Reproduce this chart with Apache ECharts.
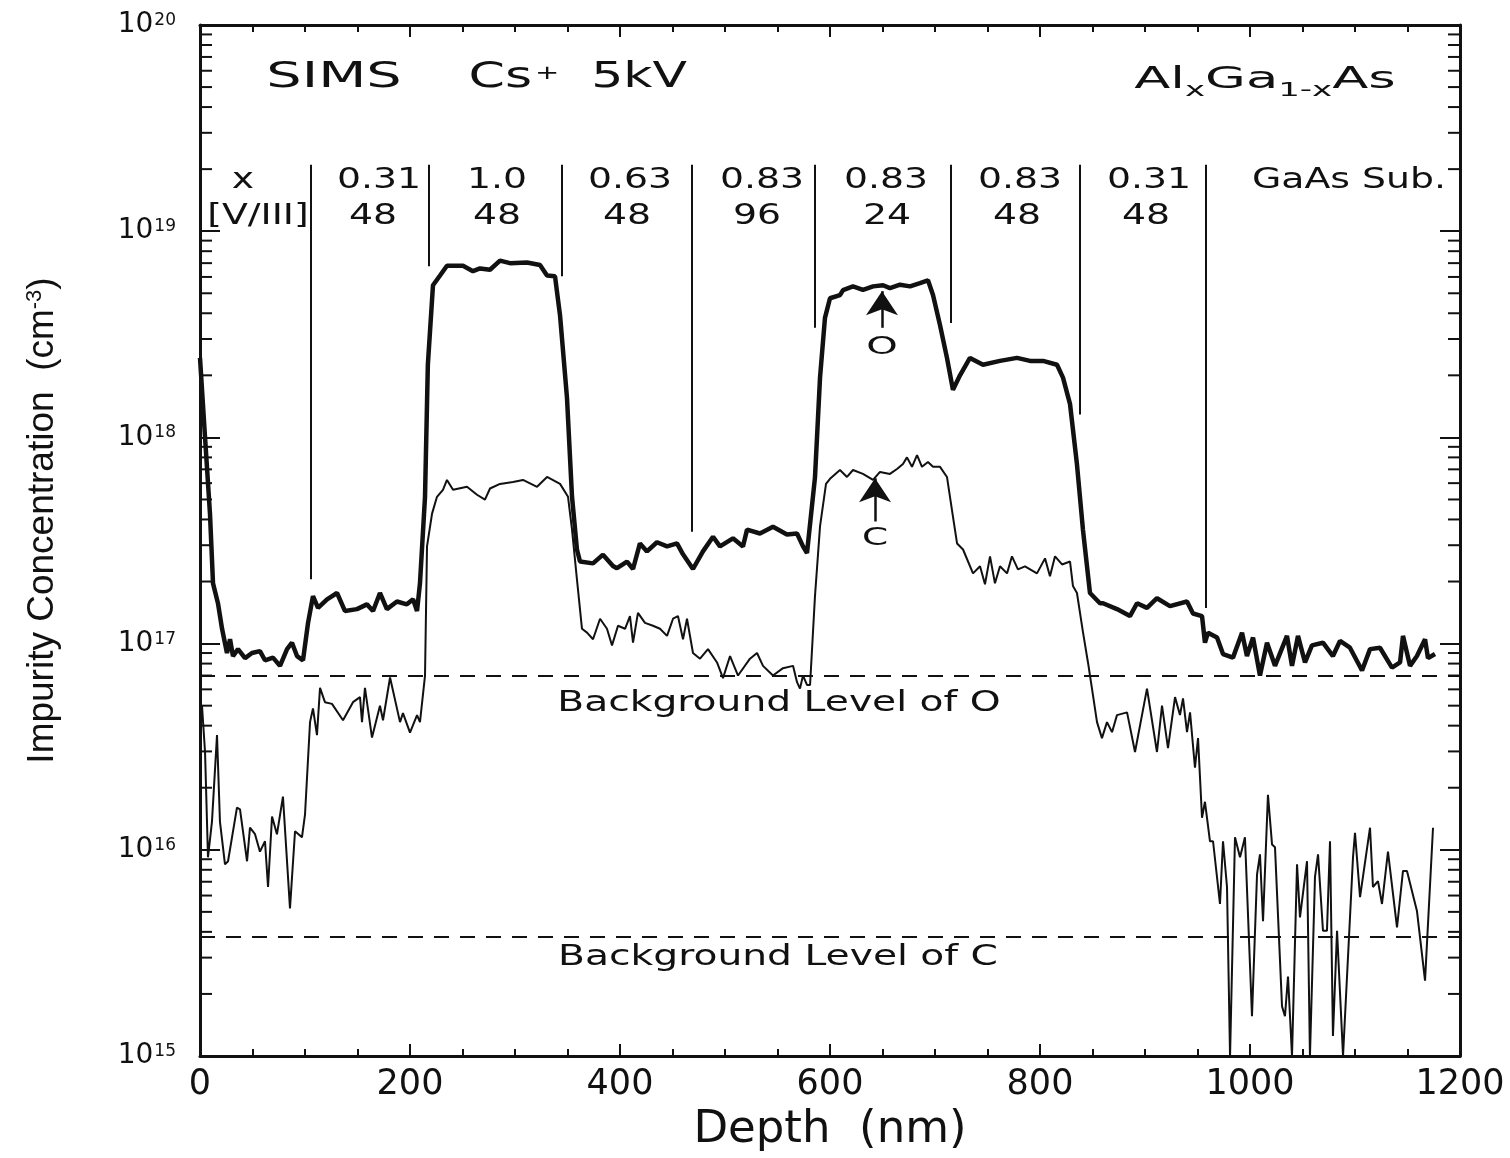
<!DOCTYPE html>
<html><head><meta charset="utf-8">
<script src="https://cdn.jsdelivr.net/npm/echarts@6/dist/echarts.min.js"></script>
<style>html,body{margin:0;padding:0;background:#fff}#c{width:1510px;height:1158px}</style>
</head><body><div id="c"></div>
<script>
// ---- data (depth nm, concentration cm^-3) ----
const oProfile = [
[0,2.43e18],[4.8,1.0e18],[9.5,4.27e17],[12.4,1.96e17],[17.1,1.57e17],[21,1.18e17],[25.7,9.0e16],[28.6,1.05e17],
[31.4,8.7e16],[36.2,9.4e16],[42.9,8.5e16],[49.5,9.0e16],[57.1,9.2e16],[61.9,8.3e16],[69.5,8.55e16],[76.2,7.8e16],
[82.9,9.4e16],[87.6,1.01e17],[92.4,8.7e16],[98.1,8.3e16],[102.9,1.26e17],[107.6,1.7e17],[112.4,1.49e17],[121,1.64e17],
[130.5,1.76e17],[138,1.44e17],[149.5,1.47e17],[159,1.55e17],[164.8,1.44e17],[171.4,1.76e17],[178,1.47e17],[187.6,1.6e17],
[197,1.55e17],[202.9,1.64e17],[206.7,1.44e17],[209.5,1.96e17],[214.3,5.15e17],[217,2.25e18],[221.9,5.47e18],[228.6,6.1e18],
[235.2,6.8e18],[250.5,6.8e18],[260,6.4e18],[266.7,6.6e18],[276.2,6.5e18],[285.7,7.2e18],[295.2,7.0e18],[311.4,7.05e18],
[323.8,6.85e18],[330.5,6.1e18],[338.1,6.05e18],[342.9,3.9e18],[349.5,1.56e18],[354.3,5.15e17],[359,2.86e17],[361.9,2.5e17],
[374.3,2.45e17],[383.8,2.7e17],[393.3,2.38e17],[397.1,2.32e17],[406.7,2.5e17],[412.4,2.3e17],[419,3.06e17],[425.7,2.8e17],
[435.2,3.1e17],[444.8,2.96e17],[454.3,3.06e17],[460,2.71e17],[469.5,2.3e17],[479,2.8e17],[488.6,3.3e17],[495.2,2.96e17],
[507.6,3.24e17],[517.1,2.96e17],[521,3.57e17],[533.3,3.42e17],[545.7,3.69e17],[559,3.38e17],[568.6,3.42e17],[574.3,2.96e17],
[578.1,2.75e17],[585.7,6.4e17],[590.5,1.95e18],[595.2,3.8e18],[600,4.73e18],[609.5,4.9e18],[612.4,5.18e18],[621.9,5.4e18],
[631.4,5.2e18],[641,5.4e18],[650.5,5.47e18],[657.1,5.3e18],[666.7,5.5e18],[676.2,5.4e18],[685.7,5.6e18],[693.3,5.78e18],
[698.1,4.9e18],[704.8,3.5e18],[711.4,2.43e18],[717.1,1.7e18],[723.8,2.0e18],[733.3,2.43e18],[745.7,2.25e18],[761.9,2.35e18],
[778.1,2.43e18],[790.5,2.35e18],[802.9,2.35e18],[816.2,2.25e18],[821.9,1.95e18],[828.6,1.45e18],[835.2,7.4e17],[840.9,3.57e17],
[847.6,1.76e17],[857.1,1.57e17],[860,1.57e17],[873.3,1.47e17],[885.7,1.36e17],[892.4,1.57e17],[901.9,1.49e17],[911.4,1.66e17],
[923.8,1.52e17],[940,1.6e17],[945.7,1.4e17],[954.3,1.36e17],[957.1,1.01e17],[960,1.13e17],[968.6,1.07e17],[974.3,8.9e16],
[983.8,8.55e16],[992.4,1.13e17],[997.1,8.7e16],[1002.9,1.07e17],[1009.5,7.0e16],[1016.2,1.01e17],[1023.8,7.8e16],[1035.2,1.09e17],
[1040,7.8e16],[1045.7,1.09e17],[1052.4,8.1e16],[1059,9.8e16],[1069.5,1.01e17],[1079,8.7e16],[1085.7,1.03e17],[1095.2,9.55e16],
[1106.7,7.4e16],[1114.3,9.4e16],[1123.8,9.55e16],[1135.2,7.65e16],[1142.9,8.1e16],[1145.7,1.09e17],[1152.4,7.8e16],[1159,8.7e16],
[1166.7,1.05e17],[1169.5,8.5e16],[1176.2,8.9e16]
];
const cProfile = [
[1.9,5.0e16],[4.8,2.98e16],[7.6,9.2e15],[11.4,1.37e16],[16.2,3.6e16],[19,1.37e16],[23.8,8.5e15],[26.7,8.8e15],
[35.2,1.6e16],[38.1,1.57e16],[44.8,8.8e15],[47.6,1.28e16],[52.4,1.19e16],[57.1,9.8e15],[61.9,1.1e16],[64.8,6.6e15],
[68.6,1.45e16],[73.3,1.19e16],[79,1.81e16],[85.7,5.2e15],[90.5,1.23e16],[97.1,1.15e16],[100,1.48e16],[104.8,4.16e16],
[107.6,4.85e16],[111.4,3.6e16],[114.3,6.1e16],[119,5.2e16],[125.7,5.1e16],[136.2,4.25e16],[145.7,5.2e16],[152.4,5.5e16],
[154.3,4.16e16],[157.1,6.1e16],[163.8,3.5e16],[171.4,5.0e16],[174.3,4.25e16],[181,6.85e16],[190.5,4.16e16],[193.3,4.6e16],
[200,3.7e16],[206.7,4.5e16],[209.5,4.16e16],[214.3,7.0e16],[216.2,2.96e17],[221,4.27e17],[225.7,5.15e17],[231.4,5.57e17],
[235.2,6.22e17],[241,5.57e17],[254.3,5.76e17],[263.8,5.27e17],[271.4,4.99e17],[276.2,5.65e17],[285.7,5.95e17],[298.1,6.08e17],
[307.6,6.22e17],[321,5.76e17],[330.5,6.43e17],[342.9,5.95e17],[350.5,5.15e17],[354.3,3.57e17],[359,2.05e17],[363.8,1.18e17],
[368.6,1.13e17],[374.3,1.05e17],[381,1.32e17],[387.6,1.18e17],[392.4,9.8e16],[398.1,1.22e17],[404.8,1.18e17],[409.5,1.36e17],
[412.4,1.01e17],[417.1,1.41e17],[423.8,1.26e17],[431.4,1.22e17],[438.1,1.18e17],[444.8,1.09e17],[450.5,1.32e17],[455.2,1.36e17],
[460,1.05e17],[463.8,1.32e17],[469.5,9.0e16],[476.2,8.45e16],[483.8,9.4e16],[492.4,8.1e16],[498.1,6.8e16],[504.8,8.7e16],
[512.4,7.0e16],[523.8,8.45e16],[530.5,9.0e16],[536.2,7.8e16],[545.7,7.0e16],[555.2,7.6e16],[564.8,7.8e16],[568.6,6.5e16],
[571.4,6.05e16],[574.3,7.0e16],[578.1,6.3e16],[581,6.3e16],[585.7,1.7e17],[590.5,3.7e17],[596.2,5.95e17],[600,6.3e17],
[609.5,6.95e17],[616.2,6.43e17],[621.9,6.95e17],[631.4,6.65e17],[641,6.22e17],[647.6,6.8e17],[657.1,6.65e17],[663.8,7.03e17],
[669.5,7.43e17],[673.3,8.0e17],[678.1,7.2e17],[682.9,8.2e17],[687.6,7.2e17],[693.3,7.6e17],[698.1,7.2e17],[704.8,7.2e17],
[711.4,6.43e17],[717.1,4.13e17],[721,3.06e17],[726.7,2.86e17],[736.2,2.19e17],[742.9,2.37e17],[747.6,1.94e17],[752.4,2.65e17],
[757.1,1.96e17],[761.9,2.37e17],[768.6,2.19e17],[773.3,2.65e17],[779,2.29e17],[785.7,2.37e17],[797.1,2.19e17],[804.8,2.59e17],
[809.5,2.12e17],[814.3,2.65e17],[821,2.42e17],[828.6,2.5e17],[831.4,1.9e17],[835.2,1.76e17],[841,1.13e17],[845.7,8.1e16],
[849.5,6.05e16],[854.3,4.16e16],[859,3.48e16],[863.8,4.16e16],[868.6,3.72e16],[873.3,4.5e16],[882.9,4.64e16],[890.5,2.98e16],
[901.9,6.05e16],[911.4,2.98e16],[916.2,5.0e16],[921.9,3.11e16],[928.6,5.5e16],[933.3,4.5e16],[936.2,5.42e16],[940,3.72e16],
[942.9,4.64e16],[947.6,2.5e16],[950.5,3.48e16],[954.3,1.43e16],[957.1,1.71e16],[961.9,1.1e16],[964.8,1.1e16],[971.4,5.46e15],
[974.3,1.1e16],[978.1,6.6e15],[981,1.0e15],[985.7,1.15e16],[990.5,9.2e15],[995.2,1.15e16],[1001.9,1.56e15],[1006.7,7.6e15],
[1009.5,9.5e15],[1012.4,4.5e15],[1017.1,1.85e16],[1021,1.06e16],[1023.8,1.03e16],[1030.5,1.74e15],[1033.3,1.56e15],[1036.2,2.43e15],
[1040,1.0e15],[1044.8,8.5e15],[1047.6,4.7e15],[1054.3,8.8e15],[1057.1,1.0e15],[1061.9,7.4e15],[1064.8,9.5e15],[1069.5,4.05e15],
[1073.3,4.05e15],[1076.2,1.1e16],[1079,1.25e15],[1082.9,4.05e15],[1088.6,1.0e15],[1098.1,9.2e15],[1100,1.21e16],[1104.8,5.9e15],
[1114.3,1.28e16],[1117.1,6.6e15],[1121.9,7.05e15],[1125.7,5.46e15],[1131.4,9.8e15],[1140,4.2e15],[1145.7,7.9e15],[1149.5,7.9e15],
[1159,5.05e15],[1166.7,2.32e15],[1174.3,1.28e16]
];
const bgO = 7.0e16;
const bgC = 3.8e15;
// layer boundaries
const sepDepth  = [105.7, 218, 344.8, 468.6, 585.7, 715.2, 838, 958];
const sepTop    = 2.1e19;
const sepBottom = [2.05e17, 6.76e18, 6.05e18, 3.49e17, 3.4e18, 3.59e18, 1.29e18, 1.49e17];
// layer header labels
const row1Text  = ['x', '0.31', '1.0', '0.63', '0.83', '0.83', '0.83', '0.31', 'GaAs Sub.'];
const row1Depth = [41, 170.5, 282.9, 409.5, 535.2, 653.3, 781, 903.8, 1094.3];
const row1Conc  = 1.75e19;
const row2Text  = ['[V/III]', '48', '48', '48', '96', '24', '48', '48'];
const row2Depth = [55.2, 164.8, 282.9, 406.7, 530.5, 654.3, 778.1, 901];
const row2Conc  = 1.17e19;
// x / y axis ticks
const xTicks = [0, 200, 400, 600, 800, 1000, 1200];
const yDecades = [15, 16, 17, 18, 19, 20];
const yMinor = [];
for (let e = 15; e < 20; e++) for (let m = 2; m <= 9; m++) yMinor.push(m * Math.pow(10, e));
// arrows
const arrowO = {depth: 649.5, from: 3.4e18, to: 5.12e18, labelConc: 2.74e18};
const arrowC = {depth: 642.9, from: 3.91e17, to: 6.33e17, labelConc: 3.22e17};
const bgLabelO = {depth: 551.4, conc: 5.1e16};
const bgLabelC = {depth: 550.5, conc: 2.98e15};

const FONT = 'DejaVu Sans';
const BLACK = '#111';
const chart = echarts.init(document.getElementById('c'));

const xAxisBase = {
  type: 'value', min: 0, max: 1200, interval: 200,
  axisLine: {show: true, onZero: false, lineStyle: {color: BLACK, width: 3}},
  axisTick: {show: true, inside: true, length: 12, lineStyle: {color: BLACK, width: 2}},
  minorTick: {show: true, splitNumber: 4, length: 7, lineStyle: {color: BLACK, width: 2}},
  splitLine: {show: false}, minorSplitLine: {show: false}
};
const yAxisBase = {
  type: 'log', logBase: 10, min: 1e15, max: 1e20,
  axisLine: {show: true, onZero: false, lineStyle: {color: BLACK, width: 3}},
  axisTick: {show: true, inside: true, length: 20, lineStyle: {color: BLACK, width: 2}},
  splitLine: {show: false}
};

const option = {
  animation: false,
  backgroundColor: '#fff',
  grid: {left: 200, right: 50, top: 25, bottom: 95},
  xAxis: [
    Object.assign({}, xAxisBase, {
      position: 'bottom',
      axisLabel: {fontFamily: FONT, fontSize: 35, color: BLACK, margin: 11,
        formatter: v => xTicks.includes(v) ? String(v) : ''},
      name: 'Depth  (nm)', nameLocation: 'middle', nameGap: 52,
      nameTextStyle: {fontFamily: FONT, fontSize: 45, color: BLACK}
    }),
    Object.assign({}, xAxisBase, {position: 'top', axisLabel: {show: false}})
  ],
  yAxis: [
    Object.assign({}, yAxisBase, {
      position: 'left',
      axisLabel: {
        margin: 24, color: BLACK,
        formatter: v => {
          const e = Math.round(Math.log10(v));
          return yDecades.includes(e) ? '{m|10}{e|' + e + '}' : '';
        },
        rich: {
          m: {fontFamily: FONT, fontSize: 28, color: BLACK},
          e: {fontFamily: FONT, fontSize: 17, color: BLACK, padding: [0, 0, 9, 1]}
        }
      },
      name: '{t|Impurity Concentration  (cm}{s|-3}{t|)}',
      nameLocation: 'middle', nameRotate: 90, nameGap: 138,
      nameTextStyle: {
        padding: [0, 0, 0, 40],
        rich: {
          t: {fontFamily: 'Liberation Sans', fontSize: 37, color: BLACK},
          s: {fontFamily: 'Liberation Sans', fontSize: 22, color: BLACK, padding: [0, 0, 16, 0]}
        }
      }
    }),
    Object.assign({}, yAxisBase, {position: 'right', axisLabel: {show: false}})
  ],
  series: [
    {
      name: 'minor ticks', type: 'custom', xAxisIndex: 0, yAxisIndex: 0, silent: true, z: 5,
      data: yMinor.map(v => [0, v]), encode: {x: 0, y: 1},
      renderItem: (params, api) => {
        const cs = params.coordSys;
        const y = api.coord([0, api.value(1)])[1];
        return {type: 'group', children: [
          {type: 'line', shape: {x1: cs.x, y1: y, x2: cs.x + 12, y2: y}, style: {stroke: BLACK, lineWidth: 2}},
          {type: 'line', shape: {x1: cs.x + cs.width - 12, y1: y, x2: cs.x + cs.width, y2: y}, style: {stroke: BLACK, lineWidth: 2}}
        ]};
      }
    },
    {
      name: 'C', type: 'line', data: cProfile, showSymbol: false, symbol: 'none',
      lineStyle: {color: BLACK, width: 2}, z: 3,
      markLine: {
        silent: true, symbol: 'none', label: {show: false},
        lineStyle: {color: BLACK, width: 2, type: 'solid'},
        data: sepDepth.map((d, i) => [{coord: [d, sepTop]}, {coord: [d, sepBottom[i]]}]).concat([
          {yAxis: bgO, lineStyle: {type: [15, 11], width: 2, color: BLACK}},
          {yAxis: bgC, lineStyle: {type: [15, 11], width: 2, color: BLACK}}
        ])
      }
    },
    {
      name: 'O', type: 'line', data: oProfile, showSymbol: false, symbol: 'none',
      lineStyle: {color: BLACK, width: 4.5}, z: 4,
      markLine: {
        silent: true, symbol: ['none', 'arrow'], symbolSize: 24, label: {show: false},
        lineStyle: {color: BLACK, width: 2.5, type: 'solid'},
        data: [
          [{coord: [arrowO.depth, arrowO.from]}, {coord: [arrowO.depth, arrowO.to]}],
          [{coord: [arrowC.depth, arrowC.from]}, {coord: [arrowC.depth, arrowC.to]}]
        ]
      }
    }
  ]
};
chart.setOption(option);

function px(d, v) { return chart.convertToPixel({xAxisIndex: 0, yAxisIndex: 0}, [d, v]); }
function txt(x, y, text, size, sx, extra) {
  return Object.assign({
    type: 'text', x: x, y: y, scaleX: sx, scaleY: 1, silent: true, z: 10,
    style: {text: text, fontFamily: FONT, fontSize: size, fill: BLACK,
      align: 'center', verticalAlign: 'middle', textAlign: 'center', textVerticalAlign: 'middle'}
  }, extra || {});
}
const g = [];
row1Text.forEach((t, i) => { const p = px(row1Depth[i], row1Conc); g.push(txt(p[0], p[1], t, 28, 1.35)); });
row2Text.forEach((t, i) => { const p = px(row2Depth[i], row2Conc); g.push(txt(p[0], p[1], t, 28, 1.35)); });
let p = px(arrowO.depth, arrowO.labelConc); g.push(txt(p[0], p[1], 'O', 25, 1.6));
p = px(arrowC.depth, arrowC.labelConc); g.push(txt(p[0], p[1], 'C', 25, 1.5));
p = px(bgLabelO.depth, bgLabelO.conc); g.push(txt(p[0], p[1], 'Background Level of O', 28, 1.4));
p = px(bgLabelC.depth, bgLabelC.conc); g.push(txt(p[0], p[1], 'Background Level of C', 28, 1.4));
// title annotations
g.push(txt(334, 78, 'SIMS', 36, 1.55));
const cs = txt(514, 78, '{a|Cs}{p|+}', 36, 1.45);
cs.style.rich = {a: {fontFamily: FONT, fontSize: 36, fill: BLACK}, p: {fontFamily: FONT, fontSize: 20, fill: BLACK, padding: [0, 0, 8, 2]}};
g.push(cs);
g.push(txt(639, 78, '5kV', 36, 1.4));
const al = txt(1265, 80, '{a|Al}{b|x}{a|Ga}{b|1-x}{a|As}', 30, 1.7);
al.style.rich = {a: {fontFamily: FONT, fontSize: 31, fill: BLACK}, b: {fontFamily: FONT, fontSize: 20, fill: BLACK, padding: [22, 0, 0, 0]}};
g.push(al);
chart.setOption({graphic: g});
</script>
</body></html>
